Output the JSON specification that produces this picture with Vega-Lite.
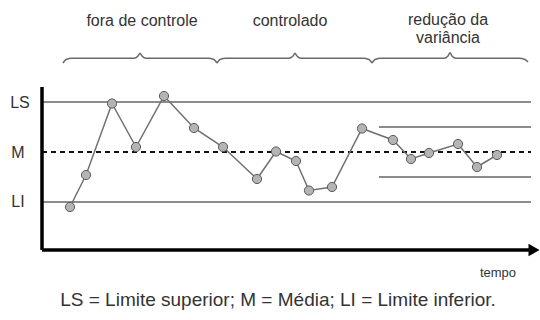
{
  "$schema": "https://vega.github.io/schema/vega-lite/v6.json",
  "width": 540,
  "height": 320,
  "autosize": {"type": "none"},
  "padding": 0,
  "background": "white",
  "config": {"view": {"stroke": null}, "text": {"font": "Liberation Sans"}},
  "datasets": {
    "serie": [
      {"t": 70, "v": -1.10}, {"t": 86, "v": -0.46}, {"t": 112, "v": 0.97}, {"t": 136, "v": 0.10},
      {"t": 164, "v": 1.12}, {"t": 194, "v": 0.48}, {"t": 223, "v": 0.10}, {"t": 257, "v": -0.54},
      {"t": 276, "v": 0.01}, {"t": 296, "v": -0.18}, {"t": 309, "v": -0.77}, {"t": 332, "v": -0.70},
      {"t": 362, "v": 0.47}, {"t": 393, "v": 0.24}, {"t": 411, "v": -0.14}, {"t": 429, "v": -0.02},
      {"t": 458, "v": 0.16}, {"t": 477, "v": -0.30}, {"t": 497, "v": -0.06}
    ],
    "limites": [
      {"nome": "LS", "t": 42, "t2": 531, "v": 1.0},
      {"nome": "LI", "t": 42, "t2": 531, "v": -1.0},
      {"nome": "LS reduzido", "t": 379, "t2": 531, "v": 0.5},
      {"nome": "LI reduzido", "t": 379, "t2": 531, "v": -0.5}
    ],
    "media": [{"t": 42, "t2": 531, "v": 0}],
    "eixos": [
      {"eixo": "y", "t": 42, "t2": 42, "v": -1.96, "v2": 1.30},
      {"eixo": "x", "t": 42, "t2": 529, "v": -1.96, "v2": -1.96}
    ],
    "seta": [{"t": 534, "v": -1.96}],
    "chaves": [
      {"c": 1, "t": 63, "v": 1.78}, {"c": 1, "t": 66, "v": 1.85}, {"c": 1, "t": 72, "v": 1.874},
      {"c": 1, "t": 134, "v": 1.874}, {"c": 1, "t": 138, "v": 1.92}, {"c": 1, "t": 140, "v": 1.974},
      {"c": 1, "t": 142, "v": 1.92}, {"c": 1, "t": 146, "v": 1.874}, {"c": 1, "t": 208, "v": 1.874},
      {"c": 1, "t": 214, "v": 1.85}, {"c": 1, "t": 217, "v": 1.78},
      {"c": 2, "t": 217, "v": 1.78}, {"c": 2, "t": 220, "v": 1.85}, {"c": 2, "t": 226, "v": 1.874},
      {"c": 2, "t": 289, "v": 1.874}, {"c": 2, "t": 293, "v": 1.92}, {"c": 2, "t": 295, "v": 1.974},
      {"c": 2, "t": 297, "v": 1.92}, {"c": 2, "t": 301, "v": 1.874}, {"c": 2, "t": 363, "v": 1.874},
      {"c": 2, "t": 369, "v": 1.85}, {"c": 2, "t": 372, "v": 1.78},
      {"c": 3, "t": 372, "v": 1.78}, {"c": 3, "t": 375, "v": 1.85}, {"c": 3, "t": 381, "v": 1.874},
      {"c": 3, "t": 444, "v": 1.874}, {"c": 3, "t": 448, "v": 1.92}, {"c": 3, "t": 450, "v": 1.984},
      {"c": 3, "t": 452, "v": 1.92}, {"c": 3, "t": 456, "v": 1.874}, {"c": 3, "t": 519, "v": 1.874},
      {"c": 3, "t": 525, "v": 1.85}, {"c": 3, "t": 528, "v": 1.80}
    ],
    "fases": [
      {"texto": "fora de controle", "t": 142, "v": 2.62},
      {"texto": "controlado", "t": 290, "v": 2.62},
      {"texto": "redução da", "t": 448, "v": 2.64},
      {"texto": "variância", "t": 448, "v": 2.28}
    ],
    "rotulos": [
      {"texto": "LS", "t": 20, "v": 0.98},
      {"texto": "M", "t": 18, "v": -0.02},
      {"texto": "LI", "t": 18, "v": -1.0}
    ],
    "tempo": [{"texto": "tempo", "t": 498, "v": -2.42}],
    "legenda": [{"texto": "LS = Limite superior; M = Média; LI = Limite inferior.", "t": 278, "v": -2.96}]
  },
  "encoding": {
    "x": {"field": "t", "type": "quantitative", "scale": {"domain": [0, 540]}, "axis": null},
    "y": {"field": "v", "type": "quantitative", "scale": {"domain": [-3.36, 3.04]}, "axis": null}
  },
  "layer": [
    {
      "data": {"name": "limites"},
      "mark": {"type": "rule", "color": "#8c8c8c", "strokeWidth": 2},
      "encoding": {"x2": {"field": "t2"}}
    },
    {
      "data": {"name": "media"},
      "mark": {"type": "rule", "color": "#111111", "strokeWidth": 2, "strokeDash": [5, 4]},
      "encoding": {"x2": {"field": "t2"}}
    },
    {
      "data": {"name": "eixos"},
      "mark": {"type": "rule", "color": "#000000", "strokeWidth": 3.5},
      "encoding": {"x2": {"field": "t2"}, "y2": {"field": "v2"}}
    },
    {
      "data": {"name": "seta"},
      "mark": {"type": "point", "shape": "triangle-right", "filled": true, "color": "#000000", "opacity": 1, "size": 160}
    },
    {
      "data": {"name": "chaves"},
      "mark": {"type": "line", "color": "#6a6a6a", "strokeWidth": 1.5, "interpolate": "monotone"},
      "encoding": {"detail": {"field": "c"}}
    },
    {
      "data": {"name": "serie"},
      "mark": {"type": "line", "color": "#707070", "strokeWidth": 1.5}
    },
    {
      "data": {"name": "serie"},
      "mark": {"type": "point", "shape": "circle", "filled": true, "fill": "#b4b4b4", "stroke": "#5a5a5a", "strokeWidth": 1, "opacity": 1, "size": 85}
    },
    {
      "data": {"name": "fases"},
      "mark": {"type": "text", "fontSize": 16, "color": "#333333", "align": "center", "baseline": "middle"},
      "encoding": {"text": {"field": "texto"}}
    },
    {
      "data": {"name": "rotulos"},
      "mark": {"type": "text", "fontSize": 16, "color": "#333333", "align": "center", "baseline": "middle"},
      "encoding": {"text": {"field": "texto"}}
    },
    {
      "data": {"name": "tempo"},
      "mark": {"type": "text", "fontSize": 13, "color": "#333333", "align": "center", "baseline": "middle"},
      "encoding": {"text": {"field": "texto"}}
    },
    {
      "data": {"name": "legenda"},
      "mark": {"type": "text", "fontSize": 19, "color": "#333333", "align": "center", "baseline": "middle"},
      "encoding": {"text": {"field": "texto"}}
    }
  ]
}
